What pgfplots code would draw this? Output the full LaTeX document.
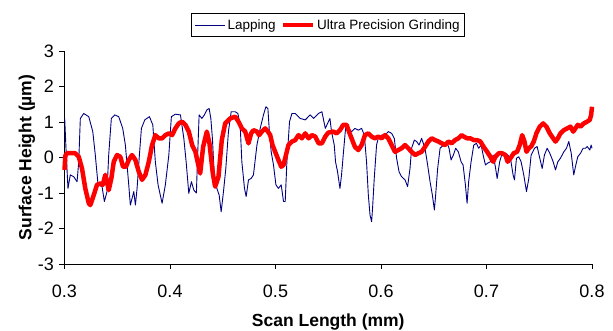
\documentclass[border=0pt]{standalone}
\usepackage{pgfplots}
\pgfplotsset{compat=1.18}
\usepackage{fontspec}
\setmainfont{Liberation Sans}
\definecolor{navyline}{RGB}{0,0,128}
\begin{document}
\begin{tikzpicture}
\begin{axis}[
  at={(0pt,0pt)}, anchor=south west,
  scale only axis, width=527.5pt, height=213pt,
  xmin=0.3, xmax=0.8, ymin=-3, ymax=3,
  axis lines*=left,
  axis line style={black, line width=0.9pt},
  xtick={0.3,0.4,0.5,0.6,0.7,0.8},
  xticklabels={0.3,0.4,0.5,0.6,0.7,0.8},
  ytick={-3,-2,-1,0,1,2,3},
  yticklabels={-3,-2,-1,0,1,2,3},
  tick align=outside, major tick length=5pt,
  tick style={black, line width=0.7pt},
  ticklabel style={font=\fontsize{18}{20}\selectfont},
  xticklabel style={anchor=center, yshift=-22pt},
  yticklabel style={anchor=east, xshift=-2pt},
  xlabel={\textbf{Scan Length (mm)}},
  ylabel={\textbf{Surface Height (µm)}},
  label style={font=\fontsize{17.5}{20}\selectfont},
  xlabel style={at={(axis description cs:0.5,-0.2723)}, anchor=center},
  ylabel style={at={(axis description cs:-0.0711,0.5)}, anchor=center},
  legend columns=2,
  legend style={at={(0.5,1)}, anchor=south, yshift=14pt, draw=black, line width=0.7pt,
    font=\fontsize{13.5}{15}\selectfont, inner xsep=3pt, inner ysep=4pt,
    /tikz/every even column/.append style={column sep=3pt}},
  legend image code/.code={\draw[#1] (0pt,0pt) -- (30pt,0pt);},
  clip=false,
]
\addplot[navyline, line width=0.9pt, line join=round] coordinates {
(0.3002,1.10) (0.3014,0.26) (0.3033,-0.87) (0.3055,-0.49) (0.3087,-0.54) (0.3119,-0.68) (0.3135,-0.12) (0.3150,1.10)
(0.3182,1.24) (0.3230,1.15) (0.3268,0.73) (0.3292,0.07) (0.3318,-0.77) (0.3356,-0.82) (0.3378,-1.24) (0.3403,-0.96)
(0.3419,0.07) (0.3444,1.10) (0.3476,1.20) (0.3514,1.15) (0.3552,0.82) (0.3577,0.35) (0.3609,-0.77) (0.3624,-1.34)
(0.3657,-0.96) (0.3672,-1.34) (0.3688,-0.87) (0.3710,0.07) (0.3729,0.82) (0.3761,1.06) (0.3805,1.15) (0.3837,0.92)
(0.3861,-0.12) (0.3887,-0.77) (0.3925,-1.29) (0.3956,-0.77) (0.3989,0.07) (0.4013,1.15) (0.4051,1.22) (0.4099,1.20)
(0.4131,0.54) (0.4153,-0.12) (0.4178,-1.01) (0.4203,-0.68) (0.4226,-0.92) (0.4250,-1.00)
(0.4265,0.30) (0.4276,1.20) (0.4302,1.10) (0.4326,1.20) (0.4349,1.34) (0.4371,1.38) (0.4387,1.10) (0.4402,0.54)
(0.4421,-0.59) (0.4444,-0.87) (0.4466,-1.06) (0.4485,-1.53) (0.4507,-0.96) (0.4529,-0.31) (0.4554,0.73) (0.4580,1.29)
(0.4618,1.29) (0.4643,1.24) (0.4665,0.92) (0.4681,-0.12) (0.4706,-0.87) (0.4722,-1.10) (0.4744,-0.63) (0.4769,-0.59)
(0.4791,-0.49) (0.4824,0.35) (0.4855,0.82) (0.4886,1.20) (0.4909,1.43) (0.4928,1.38) (0.4940,0.82) (0.4959,0.16)
(0.4981,-0.21) (0.5004,-0.77) (0.5028,-0.87) (0.5054,-0.77) (0.5076,-1.24) (0.5092,-1.24) (0.5108,-0.12) (0.5133,1.01)
(0.5156,1.24) (0.5187,1.24) (0.5234,1.10) (0.5282,1.06) (0.5329,1.20) (0.5361,1.10) (0.5408,1.24) (0.5440,1.29)
(0.5472,0.82) (0.5500,1.00)
(0.5516,1.10) (0.5531,0.73) (0.5557,0.35) (0.5569,-0.12) (0.5588,-0.40) (0.5611,-0.87) (0.5626,-0.49) (0.5642,0.07)
(0.5664,0.82) (0.5690,0.82) (0.5721,0.73) (0.5753,0.82) (0.5785,0.77) (0.5816,0.82) (0.5842,0.63) (0.5863,-0.12)
(0.5880,-1.06) (0.5896,-1.62) (0.5911,-1.81) (0.5920,-1.43) (0.5936,-0.59) (0.5958,0.35) (0.5974,0.54) (0.6006,0.63)
(0.6038,0.63) (0.6069,0.73) (0.6101,0.68) (0.6126,0.54) (0.6148,-0.02) (0.6171,-0.40) (0.6195,-0.54) (0.6228,-0.63)
(0.6252,-0.82) (0.6275,-0.31) (0.6290,0.26) (0.6316,0.49) (0.6338,0.45) (0.6361,0.35) (0.6385,0.54) (0.6417,0.26)
(0.6442,-0.21) (0.6465,-0.68) (0.6487,-1.06) (0.6506,-1.48) (0.6518,-1.06) (0.6537,-0.31) (0.6560,0.26) (0.6591,0.35)
(0.6622,0.45) (0.6645,0.26) (0.6664,-0.07) (0.6686,0.07) (0.6708,0.26) (0.6733,0.16) (0.6759,-0.12)
(0.6778,-0.21) (0.6800,-0.77) (0.6816,-1.29) (0.6831,-0.68) (0.6854,-0.12) (0.6879,0.35) (0.6904,0.40) (0.6926,0.26)
(0.6949,0.35) (0.6968,0.07) (0.6990,-0.21) (0.7011,-0.16) (0.7037,-0.12) (0.7063,0.07) (0.7084,-0.26) (0.7101,-0.59)
(0.7125,-0.12) (0.7148,0.12) (0.7179,0.12) (0.7201,0.07) (0.7227,-0.02) (0.7252,-0.49) (0.7265,-0.63) (0.7284,-0.02)
(0.7306,0.02) (0.7328,-0.12) (0.7353,-0.49) (0.7379,-0.96) (0.7401,-0.59) (0.7423,0.07) (0.7455,0.26) (0.7480,0.31)
(0.7505,-0.02) (0.7528,-0.31) (0.7549,0.07) (0.7575,0.26) (0.7600,0.12) (0.7632,-0.12) (0.7654,-0.35) (0.7676,-0.12)
(0.7701,-0.02) (0.7733,0.16) (0.7758,0.26) (0.7780,0.45) (0.7803,0.12) (0.7827,-0.49) (0.7843,-0.26) (0.7865,0.02)
(0.7891,0.12) (0.7916,0.26) (0.7938,0.26) (0.7954,0.31) (0.7979,0.21) (0.7992,0.35) (0.8000,0.26)
};
\addlegendentry{Lapping}
\addplot[red, line width=4.5pt, line join=round] coordinates {
(0.3000,-0.35) (0.3008,0.05) (0.3024,0.12) (0.3102,0.12) (0.3135,0.02) (0.3166,-0.31) (0.3197,-0.87) (0.3230,-1.29)
(0.3245,-1.34) (0.3277,-1.06) (0.3308,-0.77) (0.3340,-0.73) (0.3362,-0.77) (0.3387,-0.49) (0.3403,-0.68) (0.3419,-0.92)
(0.3444,-0.59) (0.3467,-0.12) (0.3498,0.07) (0.3529,0.02) (0.3555,-0.26) (0.3583,-0.26) (0.3609,-0.07) (0.3640,0.07)
(0.3672,-0.07) (0.3704,-0.40) (0.3735,-0.63) (0.3767,-0.49) (0.3799,-0.12) (0.3830,0.35) (0.3861,0.63) (0.3894,0.54)
(0.3925,0.54) (0.3956,0.63) (0.3989,0.68) (0.4020,0.63) (0.4051,0.82) (0.4083,0.96) (0.4115,1.01) (0.4146,0.92)
(0.4178,0.73) (0.4210,0.35) (0.4241,0.16) (0.4260,-0.10) (0.4286,-0.45) (0.4314,0.30) (0.4349,0.73) (0.4374,0.40)
(0.4406,-0.45) (0.4428,-0.82) (0.4459,-0.55) (0.4491,0.49) (0.4523,0.96) (0.4570,1.10) (0.4618,1.15) (0.4649,1.01)
(0.4681,0.82) (0.4713,0.73) (0.4744,0.40) (0.4769,0.68) (0.4791,0.77) (0.4824,0.73) (0.4845,0.63) (0.4871,0.73)
(0.4902,0.82) (0.4928,0.73) (0.4950,0.63) (0.4972,0.35) (0.4997,0.16) (0.5028,-0.07) (0.5054,-0.26) (0.5076,-0.21)
(0.5099,0.07) (0.5123,0.35) (0.5156,0.45) (0.5187,0.49) (0.5218,0.63) (0.5250,0.54) (0.5282,0.68) (0.5313,0.54)
(0.5345,0.63) (0.5377,0.59) (0.5408,0.40) (0.5440,0.40) (0.5472,0.59) (0.5500,0.70)
(0.5547,0.73) (0.5579,0.68) (0.5611,0.77) (0.5642,0.92) (0.5674,0.92) (0.5696,0.73) (0.5721,0.54) (0.5753,0.30)
(0.5785,0.21) (0.5816,0.35) (0.5848,0.63) (0.5880,0.68) (0.5911,0.59) (0.5943,0.54) (0.5974,0.59) (0.6006,0.54)
(0.6038,0.63) (0.6069,0.54) (0.6101,0.35) (0.6133,0.16) (0.6164,0.21) (0.6195,0.26) (0.6228,0.35) (0.6259,0.26)
(0.6290,0.16) (0.6323,0.07) (0.6354,0.12) (0.6385,0.16) (0.6417,0.30) (0.6449,0.45) (0.6480,0.54) (0.6512,0.49)
(0.6544,0.45) (0.6575,0.40) (0.6607,0.35) (0.6639,0.45) (0.6670,0.40) (0.6702,0.49) (0.6733,0.54) (0.6765,0.63)
(0.6784,0.59) (0.6816,0.54) (0.6847,0.54) (0.6879,0.49) (0.6911,0.49) (0.6942,0.45) (0.6973,0.30) (0.7006,0.16)
(0.7037,0.02) (0.7063,-0.12) (0.7084,0.02) (0.7116,0.12) (0.7148,0.12) (0.7179,0.07) (0.7201,-0.12) (0.7227,-0.02)
(0.7258,0.12) (0.7290,0.16) (0.7315,0.35) (0.7338,0.63) (0.7360,0.45) (0.7379,0.16) (0.7401,0.26) (0.7423,0.31)
(0.7448,0.45) (0.7473,0.68) (0.7505,0.87) (0.7537,0.96) (0.7568,0.87) (0.7600,0.68) (0.7632,0.54) (0.7654,0.45)
(0.7676,0.54) (0.7701,0.68) (0.7733,0.77) (0.7765,0.82) (0.7796,0.87) (0.7822,0.73) (0.7843,0.82) (0.7865,0.92)
(0.7891,0.87) (0.7922,0.96) (0.7954,1.01) (0.7979,1.06) (0.7992,1.20) (0.8000,1.43)
};
\addlegendentry{Ultra Precision Grinding}
\end{axis}
\pgfresetboundingbox
\path[use as bounding box] (-64.5pt,-67pt) rectangle (548.5pt,264pt);
\end{tikzpicture}
\end{document}
